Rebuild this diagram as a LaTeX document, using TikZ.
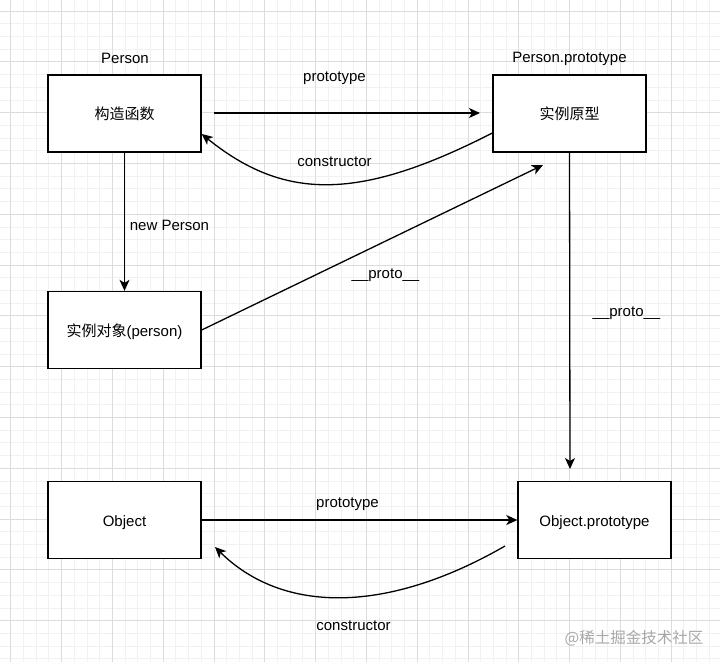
\documentclass[tikz,border=0pt]{standalone}
\usepackage{fontspec}
\setmainfont{Liberation Sans}
\newfontfamily\cjk{Noto Sans CJK SC}
\usetikzlibrary{arrows.meta}
\definecolor{minorgrid}{HTML}{F1F1F1}
\definecolor{majorgrid}{HTML}{DCDCDC}
\definecolor{wmark}{HTML}{A8A8A8}
\begin{document}
\begin{tikzpicture}[x=1pt,y=-1pt,
  font=\fontsize{15}{18}\selectfont,
  box/.style={draw, line width=1.35pt, minimum width=153pt, minimum height=77pt, inner sep=0pt, fill=white, text height=12.5pt, text depth=0pt},
  conn/.style={line width=1.3pt, -{Stealth[length=11pt,width=10pt,inset=3pt]}},
  lbl/.style={inner sep=0pt, yshift=-2.5pt}]
\useasboundingbox (0,0) rectangle (720,662);
\fill[white] (0,0) rectangle (720,662);
% grid
\foreach \i in {-1,...,57} {
  \draw[minorgrid, line width=0.8pt] ({10.7+12.7*\i},0) -- ({10.7+12.7*\i},662);
  \draw[minorgrid, line width=0.8pt] (0,{11+12.7*\i}) -- (720,{11+12.7*\i});
}
\foreach \i in {0,...,14} {
  \draw[majorgrid, line width=0.8pt] ({10.7+50.8*\i},0) -- ({10.7+50.8*\i},662);
  \draw[majorgrid, line width=0.8pt] (0,{11+50.8*\i}) -- (720,{11+50.8*\i});
}
% boxes
\node[box] (ctor) at (124.5,113.5) {\cjk 构造函数};
\node[box] (proto) at (569.5,113.5) {\cjk 实例原型};
\node[box] (inst) at (124.5,330) {{\cjk 实例对象}(person)};
\node[box] (obj) at (124.5,520) {Object};
\node[box] (objp) at (594.5,520) {Object.prototype};
% titles
\node[lbl] (tPerson) at (125,56) {Person};
\node[lbl] (tPP) at (569.5,56) {Person.prototype};
% free ends
\coordinate (p1s) at (214,113);
\coordinate (p1e) at (480,113);
\coordinate (d1e) at (543,165);
\coordinate (v1e) at (570,469);
\coordinate (c2s) at (505,546);
\coordinate (c2e) at (215,547);
% connectors
\draw[conn] (p1s) -- (p1e);
\draw[conn] ([yshift=-19.5pt]proto.west) .. controls +(-133,68) and +(83,67) .. ([yshift=-20.5pt]ctor.east);
\draw[conn] (ctor.south) -- (inst.north);
\draw[conn] (inst.east) -- (d1e);
\draw[conn] (proto.south) -- (v1e);
\draw[conn] (obj.east) -- (objp.west);
\draw[conn] (c2s) .. controls +(-118,68) and +(68,67) .. (c2e);
% labels
\node[lbl] (l1) at (334.5,76) {prototype};
\node[lbl] (l2) at (334.5,159) {constructor};
\node[lbl] (l3) at (169.5,222.5) {new Person};
\node[lbl] (l4) at (385.5,273) {\_\_proto\_\_};
\node[lbl] (l5) at (626.5,311) {\_\_proto\_\_};
\node[lbl] (l6) at (347.5,502) {prototype};
\node[lbl] (l7) at (353.5,623) {constructor};
\node[lbl, text=wmark, font=\fontsize{15.5}{18}\selectfont\cjk] (wm) at (634,636) {@稀土掘金技术社区};
\end{tikzpicture}
\end{document}
